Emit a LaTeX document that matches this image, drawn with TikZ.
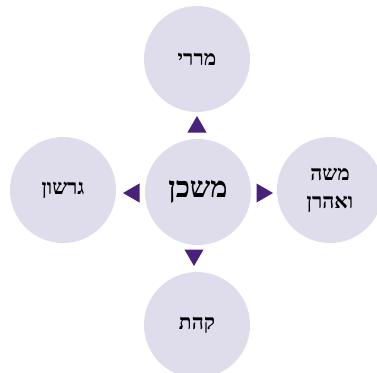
\documentclass[tikz,border=0pt]{standalone}
\usepackage{fontspec}
\usetikzlibrary{shapes.geometric}
\TeXXeTstate=1
\newfontfamily\hebfont[Script=Hebrew]{Liberation Serif}
\definecolor{lilac}{HTML}{DFDCEC}
\definecolor{grape}{HTML}{47217A}

\begin{document}
\begin{tikzpicture}[x=1pt, y=-1pt,
      circ/.style={circle, fill=lilac, minimum size=106pt, inner sep=0pt, align=center, font=\hebfont\bfseries\fontsize{21}{28}\selectfont},
      hub/.style={circ, font=\hebfont\bfseries\fontsize{29}{32}\selectfont},
      tri/.style={regular polygon, regular polygon sides=3, fill=grape, minimum size=22pt, inner sep=0pt}
    ]
      \clip (0,0) rectangle (377,372);
      \node[hub]  (mishkan) at (198,192) {\beginR משכן\endR};
      \node[circ] (merari)  at (197,59)  {\beginR מררי\endR};
      \node[circ] (gershon) at (63,190)  {\beginR גרשון\endR};
      \node[circ] (moshe)   at (330,190) {\beginR משה\endR\\\beginR ואהרן\endR};
      \node[circ] (kehat)   at (197,325) {\beginR קהת\endR};
      % arrowheads between the circles
      \node[tri] (tup)    at (197,127)   {};
      \node[tri, shape border rotate=180] (tdown)  at (194,255) {};
      \node[tri, shape border rotate=90]  (tleft)  at (134,193) {};
      \node[tri, shape border rotate=270] (tright) at (262,193) {};
    \end{tikzpicture}
\end{document}
